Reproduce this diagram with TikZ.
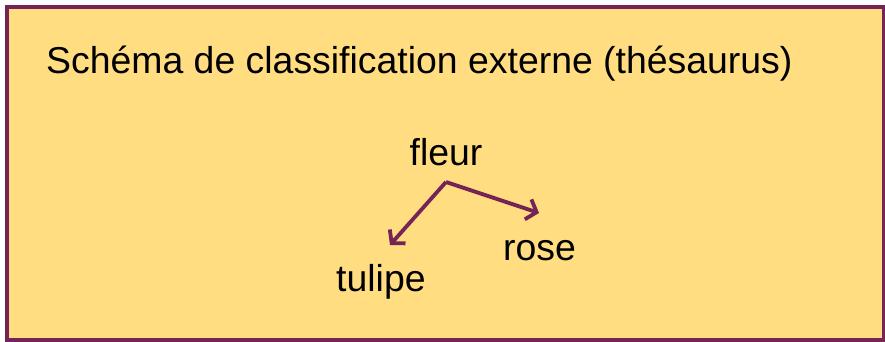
\documentclass[tikz,border=0pt]{standalone}
\usepackage{fontspec}
\setmainfont{Liberation Sans}
\usetikzlibrary{arrows.meta}
\definecolor{frame}{RGB}{118,36,86}
\definecolor{paper}{RGB}{255,221,128}
\tikzset{
  panel/.style={draw=frame, line width=4pt, fill=paper},
  term/.style={inner sep=0pt, font=\fontsize{37.4}{44}\selectfont, text=black},
  link/.style={draw=frame, line width=3.8pt,
    -{Straight Barb[length=9pt, width=21pt, line width=3.8pt]}},
}
\begin{document}
\begin{tikzpicture}[x=1pt, y=-1pt]
  \useasboundingbox (0,0) rectangle (885,342);
  \fill[white] (0,0) rectangle (885,342);
  \draw[panel] (6.5,7) rectangle (883.5,339.5);
  \node[term, anchor=base west] (title) at (46,74) {Schéma de classification externe (thésaurus)};
  \node[term, anchor=base] (fleur) at (446,165) {fleur};
  \node[term, anchor=base west] (tulipe) at (336,291) {tulipe};
  \node[term, anchor=base west] (rose) at (503,260) {rose};
  \coordinate (fork) at (446,182);
  \coordinate (tulipetip) at (390,245);
  \coordinate (rosetip) at (539,213);
  \draw[link] (fork) -- (tulipetip);
  \draw[link] (fork) -- (rosetip);
\end{tikzpicture}
\end{document}
